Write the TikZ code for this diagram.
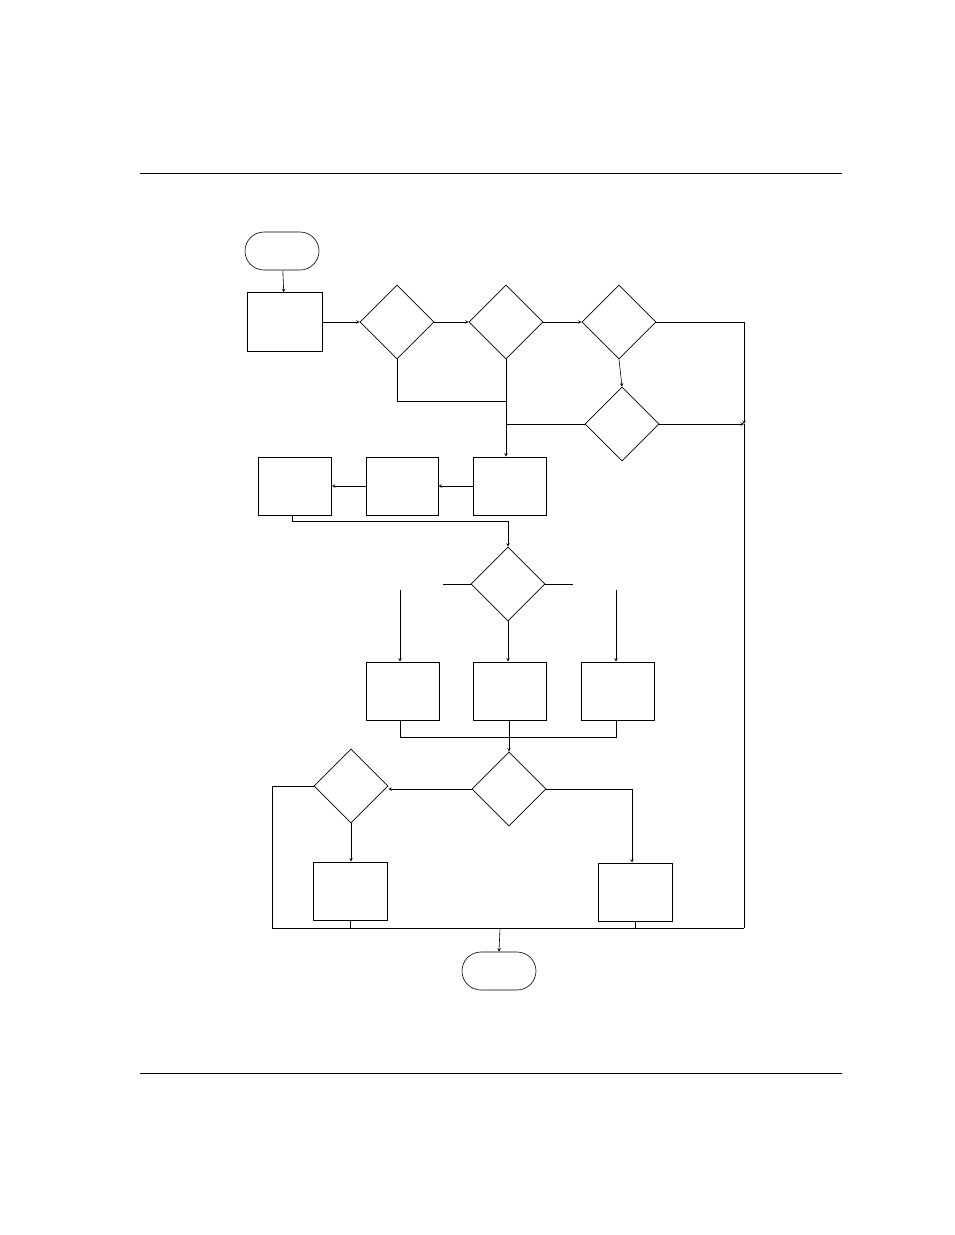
\documentclass[tikz,border=0pt]{standalone}
\usetikzlibrary{shapes.geometric}
\tikzset{
  decision/.style={draw, diamond, inner sep=0pt, minimum width=74pt, minimum height=74pt},
  process/.style={draw, rectangle, minimum width=73pt, minimum height=58pt},
  terminal/.style={draw, rectangle, rounded corners=19pt, minimum width=74pt, minimum height=38pt},
}
\begin{document}
\begin{tikzpicture}[x=1pt, y=-1pt, line width=0.6pt]
\useasboundingbox (0,0) rectangle (954,1235);

\draw (140,173) -- (842,173);
\draw (140,1073) -- (842,1073);

\node (start) [terminal] at (282,251) {};
\node (init) [process, minimum width=75pt, minimum height=59pt] at (285,322) {};
\draw [line width=1.2pt] (init.north east) -- (init.south east) -- (init.south west);

\node (dOne) [decision] at (397,322) {};
\node (dTwo) [decision] at (506,322) {};
\node (dThree) [decision] at (619,322) {};
\node (dFour) [decision] at (622,424) {};

\node (pThree) [process] at (510,486) {};
\node (pTwo) [process, minimum width=72pt] at (402,486) {};
\node (pOne) [process] at (295,486) {};

\node (dFive) [decision] at (508,584) {};

\node (qOne) [process] at (403,691) {};
\node (qTwo) [process] at (510,691) {};
\node (qThree) [process] at (618,691) {};

\node (dSix) [decision] at (509,789) {};
\node (dSeven) [decision] at (351,786) {};
\node (rOne) [process, minimum width=74pt] at (350,891) {};
\node (rTwo) [process, minimum width=74pt] at (635,892) {};

\node (stop) [terminal] at (499,971) {};

\coordinate (rightTop) at (744,322);
\coordinate (rightMid) at (744,424);
\coordinate (bus) at (500,928);

\draw [-stealth] (start) -- (init);
\draw [-stealth] (init.east) -- (dOne.west);
\draw [-stealth] (dOne.east) -- (dTwo.west);
\draw [-stealth] (dTwo.east) -- (dThree.west);
\draw [-stealth] (dThree.south) -- (dFour.north);
\draw (dThree.east) -- (rightTop);
\draw [-stealth] (rightTop) -- (rightMid);
\draw [-stealth] (dFour.east) -- (rightMid);
\draw (rightMid) -- (744,928);

\draw (dOne.south) -- (397,401) -- (506,401);
\draw (dFour.west) -- (506,424);
\draw [-stealth] (dTwo.south) -- (pThree.north -| dTwo.south);
\draw [-stealth] (pThree) -- (pTwo);
\draw [-stealth] (pTwo) -- (pOne);
\draw [-stealth] (pOne.south -| 292,0) -- (292,521) -- (508,521) -- (dFive.north);

\draw (dFive.west) -- (443,584);
\draw (dFive.east) -- (573,584);
\draw [-stealth] (400,590) -- (qOne.north -| 400,0);
\draw [-stealth] (dFive.south) -- (qTwo.north -| dFive.south);
\draw [-stealth] (616,590) -- (qThree.north -| 616,0);

\draw (qOne.south -| 400,0) -- (400,737) -- (616,737) -- (qThree.south -| 616,0);
\draw (qTwo.south -| 509,0) -- (509,737);
\draw [-stealth] (509,737) -- (dSix.north);

\draw [-stealth] (dSix.west) -- (dSeven.east |- dSix.west);
\draw [-stealth] (dSix.east) -- (632,789) -- (rTwo.north -| 632,0);
\draw [-stealth] (dSeven.south) -- (rOne.north -| dSeven.south);
\draw (dSeven.west) -- (272,786) -- (272,928) -- (744,928);
\draw (rOne.south) -- (rOne.south |- bus);
\draw (rTwo.south) -- (rTwo.south |- bus);
\draw [-stealth] (bus) -- (stop.north);

\end{tikzpicture}
\end{document}
